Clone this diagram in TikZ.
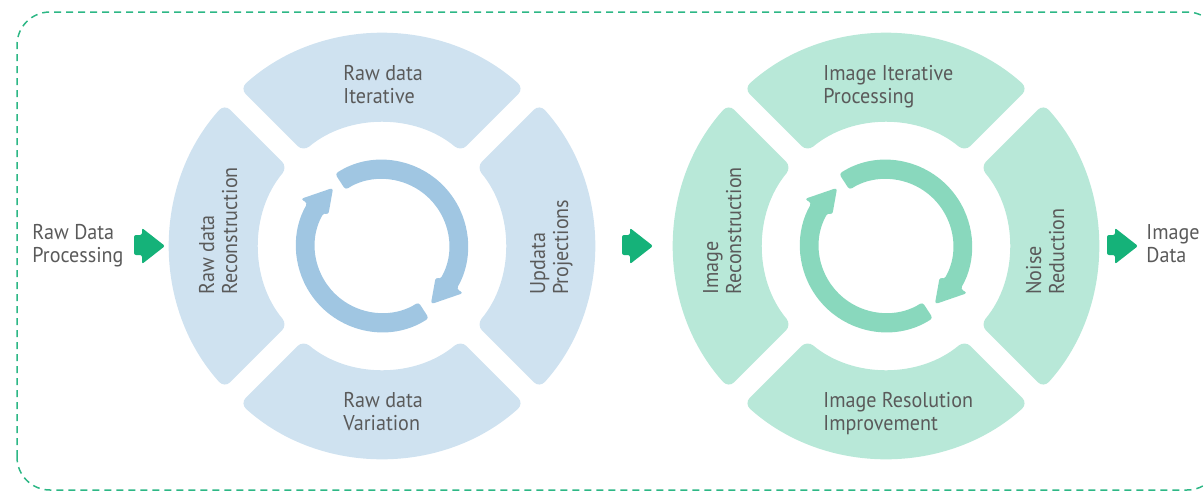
\documentclass[tikz,border=0pt]{standalone}
\usepackage{fontspec}
\setmainfont[FakeStretch=0.94]{PT Sans}
\definecolor{blueseg}{HTML}{CFE2F0}
\definecolor{bluearr}{HTML}{A0C6E2}
\definecolor{greenseg}{HTML}{B8E8D8}
\definecolor{greenarr}{HTML}{89D8BD}
\definecolor{flowgreen}{HTML}{15B279}
\definecolor{framegreen}{HTML}{2DB785}
\definecolor{txtgray}{HTML}{5A5A5A}
\begin{document}
\begin{tikzpicture}[line cap=round,line join=round,x=0.5pt,y=0.5pt,font=\fontsize{10.7}{11.5}\selectfont,
  txt/.style={text=txtgray,inner sep=0pt,align=left,anchor=base west}]
 \useasboundingbox (0,0) rectangle (1204,495);
 % dashed frame, runs off the right edge
 \begin{scope}
 \clip (0,0) rectangle (1204,495);
 \draw[framegreen,line width=0.75pt,line cap=butt,dash pattern=on 3.5pt off 2.5pt,rounded corners=16.5pt] (17,5) rectangle (1220,483);
 \end{scope}
 % ring segments
 \foreach \cx/\seg in {382/blueseg,886/greenseg}
 \foreach \a in {0,90,180,270}
 \fill[\seg,rounded corners=4pt,shift={(\cx,249)}] (\a-42.03:212) arc[start angle=\a-42.03,end angle=\a+42.03,radius=212]
  -- (\a+39.87:123) arc[start angle=\a+39.87,end angle=\a-39.87,radius=123] -- cycle;
 % circular arrows
 \foreach \cx/\arr in {382/bluearr,886/greenarr}
 \foreach \r in {0,180}
 \fill[\arr,rounded corners=1.5pt,shift={(\cx,249)},rotate=\r] (123:86) arc[start angle=123,end angle=-30,radius=86]
  -- (-30:94) -- (-50:76) -- (-30:62) -- (-30:67) arc[start angle=-30,end angle=123,radius=67] -- cycle;
 % flow arrows
 \foreach \t in {165,653,1138}
 \fill[flowgreen,rounded corners=1pt] (\t-31,240) -- (\t-23,240) -- (\t-23,231) -- (\t,249) -- (\t-23,267) -- (\t-23,260) -- (\t-31,260) -- cycle;
 % labels (anchored at the baseline of the last line)
 \node[txt] (rawin) at (32,233) {Raw Data\\Processing};
 \node[txt] (rawiter) at (343,392) {Raw data\\Iterative};
 \node[txt] (rawvar) at (343,65) {Raw data\\Variation};
 \node[txt,rotate=90] (rawrecon) at (237,200) {Raw data\\Reconstruction};
 \node[txt,rotate=90] (rawupd) at (568,200) {Updata\\Projections};
 \node[txt] (imgiter) at (823,392) {Image Iterative\\Processing};
 \node[txt] (imgres) at (823,65) {Image Resolution\\Improvement};
 \node[txt,rotate=90] (imgrecon) at (741,200) {Image\\Reconstruction};
 \node[txt,rotate=90] (noise) at (1064,200) {Noise\\Reduction};
 \node[txt] (imgout) at (1146,233) {Image\\Data};
\end{tikzpicture}
\end{document}
